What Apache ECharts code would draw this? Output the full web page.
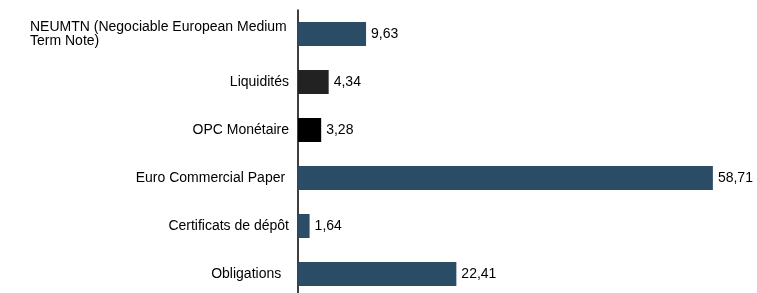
<!DOCTYPE html>
<html><head><meta charset="utf-8">
<script src="https://cdn.jsdelivr.net/npm/echarts@6/dist/echarts.min.js"></script>
<style>html,body{margin:0;padding:0;background:#fff;overflow:hidden}#c{width:757px;height:298px}</style>
</head><body><div id="c"></div>
<script>
const categories = ["NEUMTN (Negociable European Medium Term Note)", "Liquidités", "OPC Monétaire", "Euro Commercial Paper ", "Certificats de dépôt", "Obligations  "];
const values = [9.63, 4.34, 3.28, 58.71, 1.64, 22.41];
const barColors = ["#2a4d65", "#222222", "#000000", "#2a4d65", "#2a4d65", "#2a4d65"];

const FONT = 'Liberation Sans, Arial, sans-serif';
const chart = echarts.init(document.getElementById('c'), null, {renderer: 'canvas'});
chart.setOption({
  animation: false,
  grid: {left: 298, top: 10, right: 35, bottom: 0, containLabel: false},
  xAxis: {type: 'value', min: 0, max: 60, show: false},
  yAxis: {
    type: 'category', inverse: true, data: categories,
    axisLine: {show: true, lineStyle: {color: '#000', width: 1.5}},
    axisTick: {show: false},
    axisLabel: {
      margin: 9, color: '#000', fontFamily: FONT, fontSize: 14,
      formatter: function (v) {
        if (v.indexOf('NEUMTN') === 0) {
          return '{n|NEUMTN (Negociable European Medium}\n{n|Term Note)}';
        }
        return v;
      },
      rich: {n: {width: 259, align: 'left', fontSize: 14, lineHeight: 14, color: '#000', fontFamily: FONT}}
    }
  },
  series: [{
    type: 'bar', barWidth: 24,
    data: values.map((v, i) => ({value: v, itemStyle: {color: barColors[i]}})),
    label: {show: true, position: 'right', distance: 5, color: '#000', fontSize: 14,
      fontFamily: FONT,
      formatter: p => p.value.toFixed(2).replace('.', ',')}
  }]
});
</script></body></html>
